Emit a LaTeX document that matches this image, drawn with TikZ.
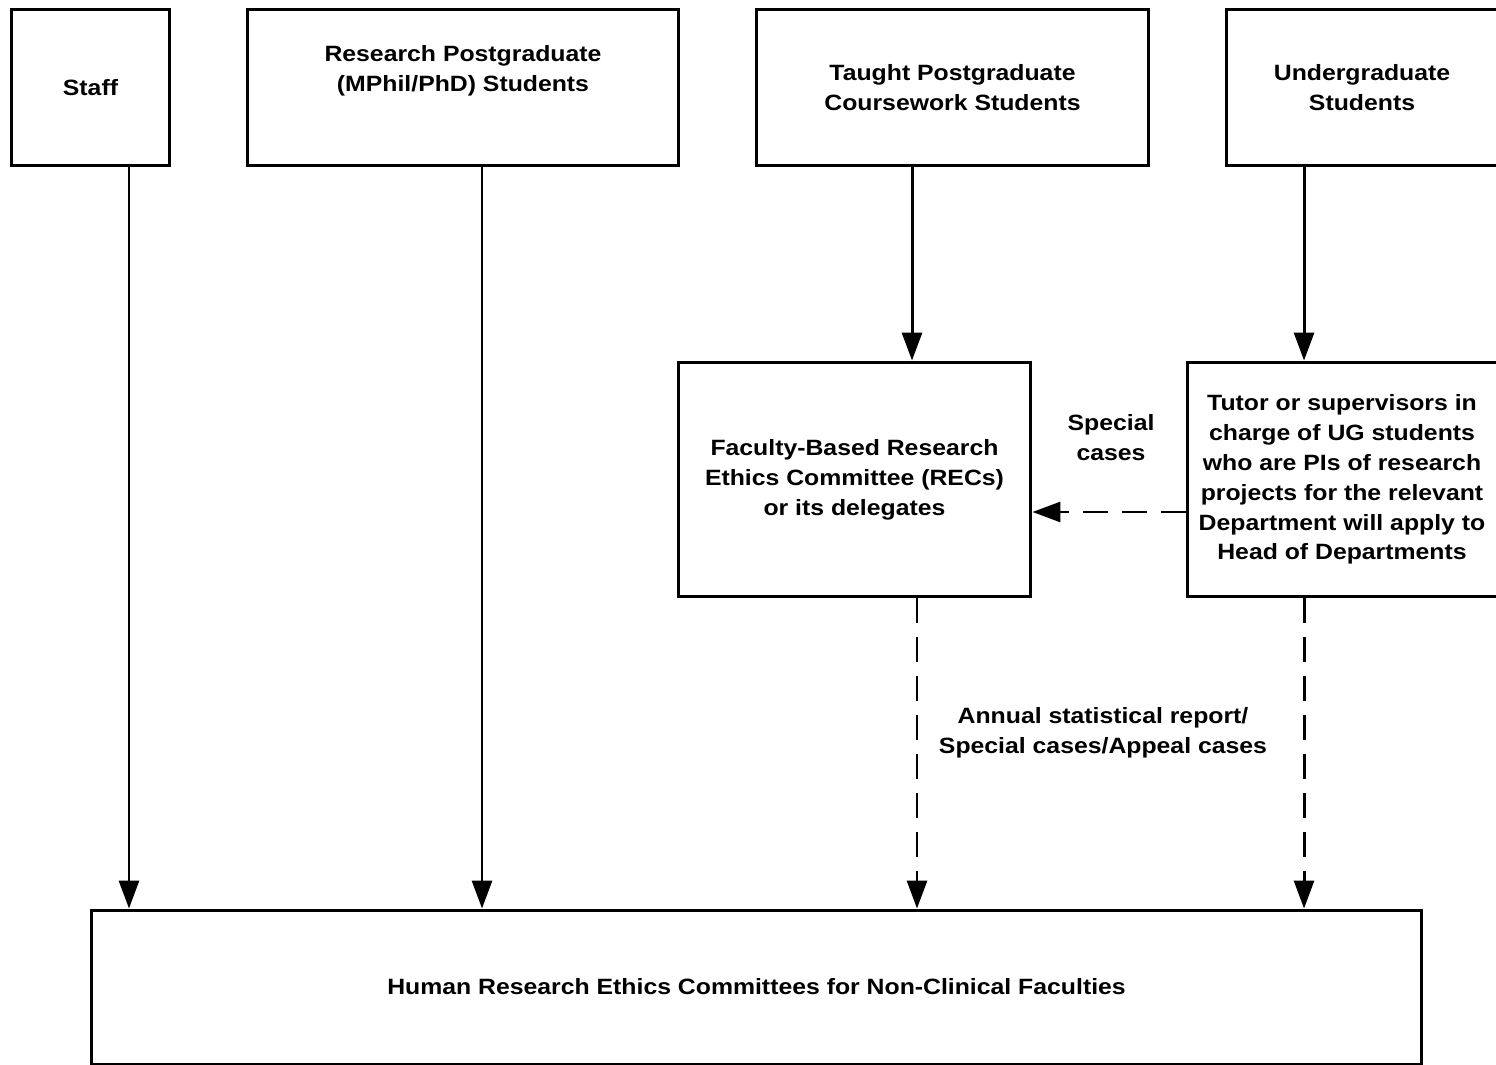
\documentclass[tikz,border=0pt]{standalone}
\usepackage{fontspec}
\setmainfont{Liberation Sans}[FakeStretch=1.12]
\usetikzlibrary{arrows.meta}

\begin{document}
\begin{tikzpicture}[x=0.02cm,y=-0.02cm,
  every node/.style={font=\fontsize{12.6pt}{17pt}\selectfont\bfseries, align=center},
  box/.style={draw, line width=1.7pt, inner sep=0pt},
  arr/.style={line width=1.7pt, -{Triangle[length=0.56cm,width=0.4cm]}},
  darr/.style={arr, dash pattern=on 0.5cm off 0.28cm}]

\useasboundingbox (0,0) rectangle (1496,1064);
\clip (0,0) rectangle (1496,1064);

% top row
\node[box, minimum width=3.18cm, minimum height=3.14cm] (staff) at (90.5,87.5) {Staff};
\node[box, minimum width=8.64cm, minimum height=3.14cm] (rpg) at (463,87.5) {Research Postgraduate\\(MPhil/PhD) Students\\ \strut};
\node[box, minimum width=7.86cm, minimum height=3.14cm] (tpg) at (952.5,87.5) {Taught Postgraduate\\Coursework Students};
\node[box, minimum width=5.44cm, minimum height=3.14cm] (ug) at (1362,87.5) {Undergraduate\\Students};

% middle row
\node[box, minimum width=7.06cm, minimum height=4.7cm] (rec) at (854.5,479.5) {Faculty-Based Research\\Ethics Committee (RECs)\\or its delegates};
\node[box, minimum width=6.2cm, minimum height=4.7cm] (tutor) at (1342,479.5) {Tutor or supervisors in\\charge of UG students\\who are PIs of research\\projects for the relevant\\Department will apply to\\Head of Departments};

% bottom
\node[box, minimum width=26.62cm, minimum height=3.08cm] (hrec) at (756.5,987) {Human Research Ethics Committees for Non-Clinical Faculties};

% labels
\node (special) at (1111,438) {Special\\cases};
\node (annual) at (1103,733) {Annual statistical report/\\Special cases/Appeal cases};

% connectors
\draw[arr] ([xshift=0.77cm]staff.south) -- ([xshift=0.77cm]staff.south |- hrec.north);
\draw[arr] ([xshift=0.38cm]rpg.south) -- ([xshift=0.38cm]rpg.south |- hrec.north);
\draw[arr] ([xshift=-0.81cm]tpg.south) -- ([xshift=-0.81cm]tpg.south |- rec.north);
\draw[arr] ([xshift=-1.16cm]ug.south) -- ([xshift=-1.16cm]ug.south |- tutor.north);

\draw[darr] ([xshift=1.25cm]rec.south) -- ([xshift=1.25cm]rec.south |- hrec.north);
\draw[darr] ([xshift=-0.76cm]tutor.south) -- ([xshift=-0.76cm]tutor.south |- hrec.north);
\draw[darr] ([yshift=-0.65cm]tutor.west) -- ([yshift=-0.65cm]tutor.west -| rec.east);

\end{tikzpicture}
\end{document}
